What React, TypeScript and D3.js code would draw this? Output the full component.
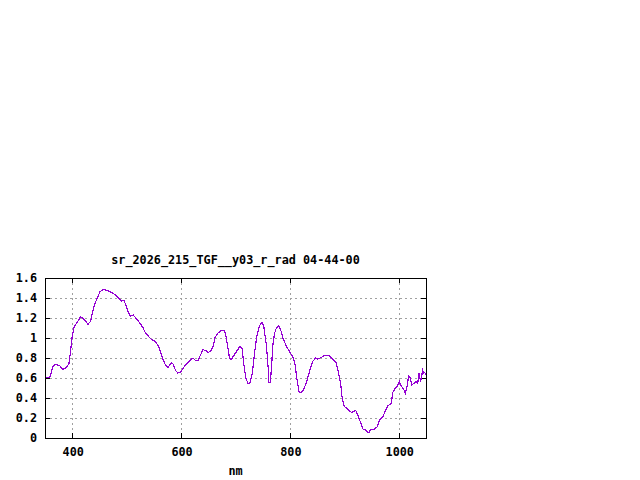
import React from "react";
import * as d3 from "d3";

const title = "sr_2026_215_TGF__y03_r_rad 04-44-00";
const xLabel = "nm";
const xTicks = [400, 600, 800, 1000];
const yTicks = [0, 0.2, 0.4, 0.6, 0.8, 1, 1.2, 1.4, 1.6];

const wavelengths = [
  350, 359, 365, 369, 377, 383, 388, 394, 397, 400, 404, 409, 415, 420, 425, 429, 434, 437, 441, 446,
  451, 457, 464, 473, 480, 486, 490, 495, 498, 502, 507, 512, 519, 525, 530, 533, 539, 546, 552, 558,
  562, 567, 572, 576, 582, 585, 590, 594, 599, 604, 610, 616, 622, 627, 631, 636, 640, 645, 650, 654,
  659, 662, 668, 674, 679, 682, 686, 689, 692, 695, 702, 708, 712, 715, 719, 723, 727, 731, 735, 739,
  744, 749, 752, 757, 760, 761, 764, 766, 769, 772, 775, 779, 783, 787, 793, 799, 805, 809, 813, 817,
  821, 825, 830, 836, 842, 847, 851, 858, 864, 872, 879, 885, 888, 893, 896, 900, 907, 913, 917, 921,
  925, 929, 934, 940, 945, 948, 955, 960, 965, 971, 976, 980, 986, 989, 994, 998, 1001, 1004, 1009, 1012,
  1015, 1018, 1021, 1024, 1029, 1032, 1035, 1037, 1040, 1044, 1046, 1048, 1050,
];
const radiance = [
  0.6, 0.61, 0.72, 0.736, 0.723, 0.686, 0.7, 0.743, 0.87, 1.02, 1.12, 1.153, 1.21, 1.196, 1.17, 1.136, 1.17, 1.253, 1.336, 1.4,
  1.463, 1.486, 1.476, 1.453, 1.43, 1.396, 1.37, 1.376, 1.336, 1.27, 1.22, 1.23, 1.186, 1.143, 1.103, 1.066, 1.023, 0.983, 0.966, 0.923,
  0.866, 0.783, 0.723, 0.706, 0.75, 0.743, 0.676, 0.65, 0.656, 0.7, 0.743, 0.776, 0.8, 0.773, 0.773, 0.833, 0.883, 0.876, 0.856, 0.866,
  0.916, 1.0, 1.05, 1.076, 1.076, 1.033, 0.9, 0.8, 0.783, 0.81, 0.866, 0.916, 0.9, 0.75, 0.6, 0.543, 0.556, 0.65, 0.85, 1.016,
  1.123, 1.156, 1.116, 0.916, 0.7, 0.553, 0.553, 0.7, 0.95, 1.05, 1.1, 1.123, 1.083, 1.0, 0.923, 0.866, 0.816, 0.75, 0.583, 0.453,
  0.453, 0.483, 0.55, 0.666, 0.766, 0.8, 0.79, 0.806, 0.826, 0.823, 0.783, 0.75, 0.683, 0.55, 0.4, 0.316, 0.283, 0.256, 0.266, 0.276,
  0.223, 0.166, 0.09, 0.076, 0.05, 0.083, 0.09, 0.11, 0.183, 0.216, 0.283, 0.323, 0.343, 0.456, 0.5, 0.523, 0.566, 0.523, 0.49, 0.443,
  0.51, 0.616, 0.6, 0.533, 0.55, 0.566, 0.55, 0.65, 0.566, 0.676, 0.65, 0.653, 0.63,
];

const W = 640;
const H = 480;
const left = 45;
const right = 426;
const top = 278;
const bottom = 438;
const font = "'DejaVu Sans Mono', 'Liberation Mono', monospace";

export default function App() {
  const x = d3.scaleLinear().domain([350, 1050]).range([left, right]);
  const y = d3.scaleLinear().domain([0, 1.6]).range([bottom, top]);
  const pts: [number, number][] = wavelengths.map((w, i) => [w, radiance[i]]);
  const line = d3
    .line<[number, number]>()
    .x((d) => x(d[0]))
    .y((d) => y(d[1]));
  const fmt = (v: number) => (v === 0 || v === 1 ? String(v) : d3.format(".1f")(v));
  const tl = 5;
  return (
    <svg
      width={W}
      height={H}
      style={{ position: "absolute", left: 0, top: 0, background: "#fff" }}
      fontFamily={font}
      fontWeight="bold"
      fontSize={11.8}
    >
      <rect x={0} y={0} width={W} height={H} fill="#fff" />
      {/* grid */}
      <g stroke="#a0a0a0" strokeDasharray="2,3" shapeRendering="crispEdges">
        {yTicks
          .filter((t) => t > 0 && t < 1.6)
          .map((t) => (
            <line key={"gy" + t} x1={left} x2={right} y1={Math.round(y(t)) + 0.5} y2={Math.round(y(t)) + 0.5} />
          ))}
        {xTicks.map((t) => (
          <line key={"gx" + t} x1={Math.round(x(t)) + 0.5} x2={Math.round(x(t)) + 0.5} y1={top} y2={bottom} />
        ))}
      </g>
      {/* ticks */}
      <g stroke="#000" shapeRendering="crispEdges">
        {yTicks.map((t) => {
          const yy = Math.round(y(t)) + 0.5;
          return (
            <g key={"ty" + t}>
              <line x1={left} x2={left + tl} y1={yy} y2={yy} />
              <line x1={right - tl} x2={right} y1={yy} y2={yy} />
            </g>
          );
        })}
        {xTicks.map((t) => {
          const xx = Math.round(x(t)) + 0.5;
          return (
            <g key={"tx" + t}>
              <line x1={xx} x2={xx} y1={bottom} y2={bottom - tl} />
              <line x1={xx} x2={xx} y1={top} y2={top + tl} />
            </g>
          );
        })}
      </g>
      {/* data */}
      <path d={line(pts) || ""} fill="none" stroke="#9400d3" strokeWidth={1.2} shapeRendering="crispEdges" />
      {/* frame */}
      <rect
        x={left + 0.5}
        y={top + 0.5}
        width={right - left}
        height={bottom - top}
        fill="none"
        stroke="#000"
        shapeRendering="crispEdges"
      />
      {/* labels */}
      {yTicks.map((t) => (
        <text key={"ly" + t} x={37} y={y(t)} textAnchor="end" dominantBaseline="central" fill="#000">
          {fmt(t)}
        </text>
      ))}
      {xTicks.map((t) => (
        <text key={"lx" + t} x={x(t) + 1} y={452} textAnchor="middle" dominantBaseline="central" fill="#000">
          {t}
        </text>
      ))}
      <text x={(left + right) / 2} y={471} textAnchor="middle" dominantBaseline="central" fill="#000">
        {xLabel}
      </text>
      <text x={(left + right) / 2} y={260} textAnchor="middle" dominantBaseline="central" fill="#000">
        {title}
      </text>
    </svg>
  );
}
